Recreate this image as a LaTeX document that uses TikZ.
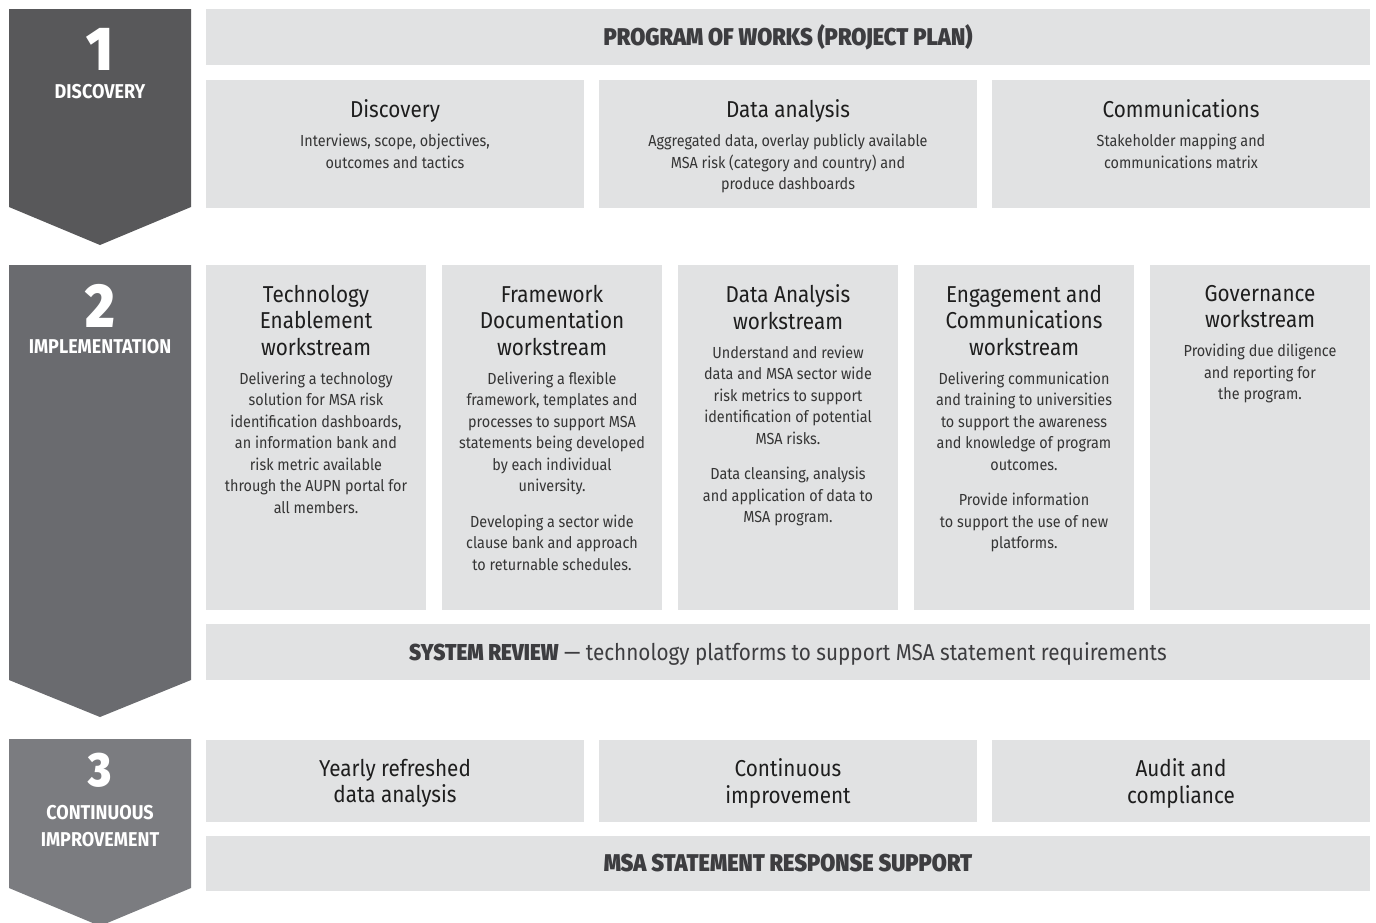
\documentclass[tikz,border=0pt]{standalone}
\usepackage{fontspec}
\setmainfont{Fira Sans}[FakeStretch=0.9]
\newfontfamily\blackfont{Fira Sans Black}[FakeStretch=0.9]
\usepackage{xcolor}
\usepackage{tikz}
\usetikzlibrary{positioning}

\definecolor{chevA}{HTML}{58585A}
\definecolor{chevB}{HTML}{6A6B6F}
\definecolor{chevC}{HTML}{7B7C80}
\definecolor{boxgray}{HTML}{E1E2E3}
\definecolor{inkdark}{HTML}{3D3D40}
\definecolor{ink}{HTML}{1E1E1E}

\begin{document}
\begin{tikzpicture}[x=1pt, y=-1pt,
    box/.style={fill=boxgray, inner sep=0pt},
    wide/.style={box, minimum width=1164pt, minimum height=56pt},
    third/.style={box, minimum width=378pt},
    fifth/.style={box, minimum width=220pt, minimum height=345pt},
    head/.style={align=center, inner sep=0pt, text=ink, font=\fontsize{23}{26.5}\selectfont},
    headtop/.style={head, text depth=0pt},
    body/.style={align=center, inner sep=0pt, text=ink!90, font=\fontsize{16}{21.5}\selectfont},
    banner/.style={inner sep=0pt, text=inkdark, font=\fontsize{23}{26}\selectfont},
    bigbanner/.style={banner, font=\fontsize{24.2}{26}\selectfont\blackfont},
    chevnum/.style={inner sep=0pt, text=white, font=\fontsize{62}{62}\selectfont\blackfont},
    chevtext/.style={inner sep=0pt, text=white, align=center, font=\fontsize{20}{27}\selectfont\bfseries}]
    \useasboundingbox (0,0) rectangle (1376,922);
    \clip (0,0) rectangle (1376,922);

    % Chevrons
    \fill[chevA] (9,9) -- (191,9) -- (191,207) -- (100,245) -- (9,207) -- cycle;
    \fill[chevB] (9,265) -- (191,265) -- (191,680) -- (100,717) -- (9,680) -- cycle;
    \fill[chevC] (9,739) -- (191,739) -- (191,888) -- (100,926) -- (9,888) -- cycle;

    \node[chevnum] (num1) at (100,49) {1};
    \node[chevtext] (lbl1) at (100,92) {DISCOVERY};
    \node[chevnum] (num2) at (100,306) {2};
    \node[chevtext] (lbl2) at (100,347) {IMPLEMENTATION};
    \node[chevnum, font=\fontsize{48}{48}\selectfont\blackfont] (num3) at (100,770) {3};
    \node[chevtext] (lbl3) at (100,826) {CONTINUOUS\\IMPROVEMENT};

    % Discovery
    \node[wide] (plan) at (788,37) {};
    \node[bigbanner] at (plan) {PROGRAM OF WORKS (PROJECT PLAN)};

    \node[third, minimum height=128pt] (disc) at (395,144) {};
    \node[third, minimum height=128pt] (data) at (788,144) {};
    \node[third, minimum height=128pt] (comm) at (1181,144) {};

    \node[headtop, below=20pt of disc.north] (discH) {Discovery};
    \node[body, below=16pt of discH] {Interviews, scope, objectives,\\outcomes and tactics};
    \node[headtop, below=20pt of data.north] (dataH) {Data analysis};
    \node[body, below=16pt of dataH] {Aggregated data, overlay publicly available\\MSA risk (category and country) and\\produce dashboards};
    \node[headtop, below=20pt of comm.north] (commH) {Communications};
    \node[body, below=16pt of commH] {Stakeholder mapping and\\communications matrix};

    % Implementation
    \node[fifth] (tech) at (316,437.5) {};
    \node[fifth] (frame) at (552,437.5) {};
    \node[fifth] (anal) at (788,437.5) {};
    \node[fifth] (engage) at (1024,437.5) {};
    \node[fifth] (gov) at (1260,437.5) {};

    \node[headtop, below=20pt of tech.north] (techH) {Technology\\Enablement\\workstream};
    \node[body, below=16pt of techH] {Delivering a technology\\solution for MSA risk\\identification dashboards,\\an information bank and\\risk metric available\\through the AUPN portal for\\all members.};
    \node[headtop, below=20pt of frame.north] (frameH) {Framework\\Documentation\\workstream};
    \node[body, below=16pt of frameH] {Delivering a flexible\\framework, templates and\\processes to support MSA\\statements being developed\\by each individual\\university.\\[14pt]Developing a sector wide\\clause bank and approach\\to returnable schedules.};
    \node[headtop, below=20pt of anal.north] (analH) {Data Analysis\\workstream};
    \node[body, below=16pt of analH] {Understand and review\\data and MSA sector wide\\risk metrics to support\\identification of potential\\MSA risks.\\[14pt]Data cleansing, analysis\\and application of data to\\MSA program.};
    \node[headtop, below=20pt of engage.north] (engageH) {Engagement and\\Communications\\workstream};
    \node[body, below=16pt of engageH] {Delivering communication\\and training to universities\\to support the awareness\\and knowledge of program\\outcomes.\\[14pt]Provide information\\to support the use of new\\platforms.};
    \node[headtop, below=20pt of gov.north] (govH) {Governance\\workstream};
    \node[body, below=16pt of govH] {Providing due diligence\\and reporting for\\the program.};

    \node[wide] (review) at (788,652) {};
    \node[banner, yshift=-2pt] at (review) {{\blackfont SYSTEM REVIEW} — technology platforms to support MSA statement requirements};

    % Continuous improvement
    \node[third, minimum height=82pt] (yearly) at (395,781) {};
    \node[third, minimum height=82pt] (contin) at (788,781) {};
    \node[third, minimum height=82pt] (audit) at (1181,781) {};
    \node[head, yshift=-2.5pt] at (yearly) {Yearly refreshed\\data analysis};
    \node[head, yshift=-2.5pt] at (contin) {Continuous\\improvement};
    \node[head, yshift=-2.5pt] at (audit) {Audit and\\compliance};

    \node[wide, minimum height=55pt] (support) at (788,863.5) {};
    \node[bigbanner] at (support) {MSA STATEMENT RESPONSE SUPPORT};
\end{tikzpicture}
\end{document}
